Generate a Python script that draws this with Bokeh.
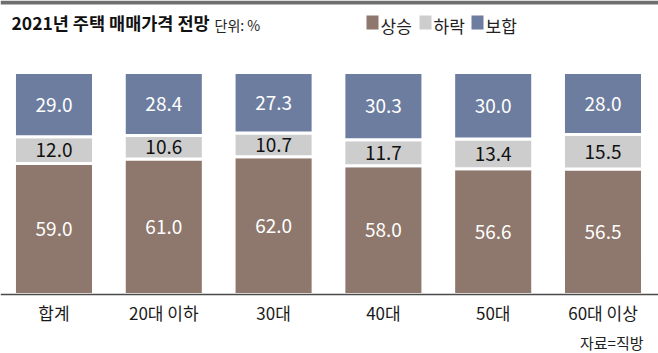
import numpy as np
from bokeh.plotting import figure
from bokeh.models import ColumnDataSource, Range1d, Span, BoxAnnotation, Label
from bokeh.core.properties import value
from bokeh.embed import file_html
from bokeh.resources import INLINE

# ---- data ----
categories = ["합계", "20대 이하", "30대", "40대", "50대", "60대 이상"]
rise = [59.0, 61.0, 62.0, 58.0, 56.6, 56.5]      # 상승
fall = [12.0, 10.6, 10.7, 11.7, 13.4, 15.5]      # 하락
flat = [29.0, 28.4, 27.3, 30.3, 30.0, 28.0]      # 보합
series_names = ["상승", "하락", "보합"]
title_text = "2021년 주택 매매가격 전망"
unit_text = "단위: %"
source_text = "자료=직방"

# ---- styles ----
C_RISE = "#8e776c"
C_FALL = "#cdcdcd"
C_FLAT = "#6d7da0"
FONT_NAME = "Noto Sans CJK KR"
FONT = value(FONT_NAME)
W, H = 658, 353

XS, XE = -0.4872, 5.5055
YS, YE = -26.6, 132.4

def dx(px):
    return XS + px / W * (XE - XS)

def dy(py):
    return YE - py / H * (YE - YS)

p = figure(width=W, height=H, x_range=Range1d(XS, XE), y_range=Range1d(YS, YE),
           min_border=0, toolbar_location=None, output_backend="svg")
p.axis.visible = False
p.grid.visible = False
p.outline_line_color = None
p.background_fill_color = "white"
p.border_fill_color = "white"

x = np.arange(len(categories))
r = np.array(rise); f = np.array(fall); fl = np.array(flat)
src = ColumnDataSource(dict(
    x=x, rise=r, fall=f, flat=fl,
    rise_y=r / 2, fall_y=r + f / 2, flat_y=r + f + fl / 2,
    rise_t=[f"{v:.1f}" for v in r], fall_t=[f"{v:.1f}" for v in f], flat_t=[f"{v:.1f}" for v in fl],
    cat=categories,
))

p.vbar_stack(["rise", "fall", "flat"], x="x", width=0.72, source=src,
             color=[C_RISE, C_FALL, C_FLAT], line_color="white", line_width=3)

p.add_layout(Span(location=0, dimension="width", line_color="#4a4a4a", line_width=1.5))

common = dict(text_font=FONT, text_font_size="19px", text_align="center", text_baseline="middle")
p.text(x="x", y="rise_y", text="rise_t", source=src, text_color="white", **common)
p.text(x="x", y="fall_y", text="fall_t", source=src, text_color="#111111", **common)
p.text(x="x", y="flat_y", text="flat_t", source=src, text_color="white", **common)

# category labels
p.text(x="x", y=dy(312), text="cat", source=src, text_color="#1a1a1a", text_font=FONT,
       text_font_size="17px", text_align="center", text_baseline="middle")

# top gray strip
p.add_layout(BoxAnnotation(bottom=dy(4), top=YE, left=XS, right=XE,
                           fill_color="#6f6f6f", fill_alpha=1, line_color=None))

# title
p.add_layout(Label(x=dx(11), y=dy(22), text=title_text, text_font=FONT_NAME, text_font_size="17.5px",
                   text_font_style="bold", text_color="#111111", text_baseline="middle"))
p.add_layout(Label(x=dx(214), y=dy(24), text=unit_text, text_font=FONT_NAME, text_font_size="14px",
                   text_color="#222222", text_baseline="middle"))

# legend
legend_x = [366, 419, 471]
legend_colors = [C_RISE, C_FALL, C_FLAT]
for lx, col, name in zip(legend_x, legend_colors, series_names):
    p.add_layout(BoxAnnotation(left=dx(lx), right=dx(lx + 12), top=dy(15), bottom=dy(29),
                               fill_color=col, fill_alpha=1, line_color=None))
    p.add_layout(Label(x=dx(lx + 14), y=dy(24.5), text=name, text_font=FONT_NAME, text_font_size="17px",
                       text_color="#222222", text_baseline="middle"))

# source
p.add_layout(Label(x=dx(643), y=dy(342), text=source_text, text_font=FONT_NAME, text_font_size="15px",
                   text_color="#222222", text_align="right", text_baseline="middle"))

open("out.html", "w").write(file_html(p, INLINE))
